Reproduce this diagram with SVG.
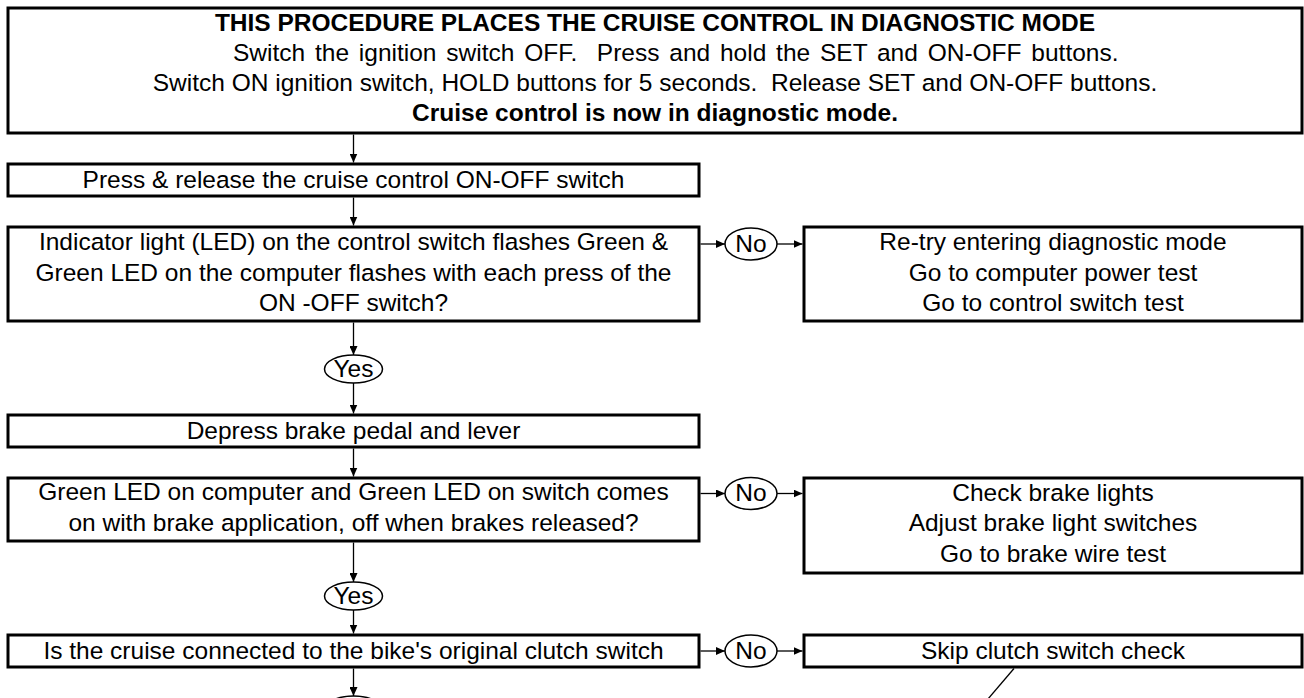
<svg xmlns="http://www.w3.org/2000/svg" width="1304" height="698" viewBox="0 0 1304 698">
  <style>
    .box { fill: #fff; stroke: #000; stroke-width: 3; }
    .oval { fill: #fff; stroke: #000; stroke-width: 1.5; }
    .t { font-family: "Liberation Sans", Arial, sans-serif; font-size: 24.5px; fill: #000; text-anchor: middle; }
    .b { font-weight: bold; }
    .conn line { stroke: #000; stroke-width: 1.3; fill: none; }
    .conn .arrow { marker-end: url(#arr); }
  </style>
  <defs>
    <marker id="arr" markerWidth="9" markerHeight="8" refX="9" refY="4" orient="auto" markerUnits="userSpaceOnUse">
      <path d="M0,0 L9,4 L0,8 z" fill="#000"/>
    </marker>
  </defs>
  <rect x="0" y="0" width="1304" height="698" fill="#fff"/>

  <!-- connectors -->
  <g id="connectors" class="conn">
    <line class="arrow" x1="353.5" y1="134.5" x2="353.5" y2="162.5"/>
    <line class="arrow" x1="353.5" y1="197.5" x2="353.5" y2="225.5"/>
    <line class="arrow" x1="353.5" y1="322.5" x2="353.5" y2="355"/>
    <line class="arrow" x1="353.5" y1="383" x2="353.5" y2="413.5"/>
    <line class="arrow" x1="353.5" y1="448.5" x2="353.5" y2="476.5"/>
    <line class="arrow" x1="353.5" y1="542.5" x2="353.5" y2="582"/>
    <line class="arrow" x1="353.5" y1="610" x2="353.5" y2="633.5"/>
    <line class="arrow" x1="353.5" y1="668.5" x2="353.5" y2="696"/>
    <line class="arrow" x1="700.5" y1="244" x2="725" y2="244"/>
    <line class="arrow" x1="777" y1="244" x2="802.5" y2="244"/>
    <line class="arrow" x1="700.5" y1="493.5" x2="725" y2="493.5"/>
    <line class="arrow" x1="777" y1="493.5" x2="802.5" y2="493.5"/>
    <line class="arrow" x1="700.5" y1="651" x2="725" y2="651"/>
    <line class="arrow" x1="777" y1="651" x2="802.5" y2="651"/>
    <line x1="1014" y1="668.5" x2="982" y2="706"/>
  </g>

  <!-- procedure header -->
  <g id="intro">
    <rect class="box" x="8" y="8" width="1294" height="125"/>
    <text class="t b" x="655" y="31">THIS PROCEDURE PLACES THE CRUISE CONTROL IN DIAGNOSTIC MODE</text>
    <text class="t" x="233" y="61" style="text-anchor:start; word-spacing:3px" xml:space="preserve">Switch the ignition switch OFF.  Press and hold the SET and ON-OFF buttons.</text>
    <text class="t" x="655" y="91" xml:space="preserve">Switch ON ignition switch, HOLD buttons for 5 seconds.  Release SET and ON-OFF buttons.</text>
    <text class="t b" x="655" y="121">Cruise control is now in diagnostic mode.</text>
  </g>

  <g id="press-release">
    <rect class="box" x="8" y="164" width="691" height="32"/>
    <text class="t" x="353.5" y="188">Press &amp; release the cruise control ON-OFF switch</text>
  </g>

  <g id="led-flash-check">
    <rect class="box" x="8" y="227" width="691" height="94"/>
    <text class="t" x="353.5" y="250">Indicator light (LED) on the control switch flashes Green &amp;</text>
    <text class="t" x="353.5" y="280.5">Green LED on the computer flashes with each press of the</text>
    <text class="t" x="353.5" y="311">ON -OFF switch?</text>
  </g>

  <g id="no-1">
    <ellipse class="oval" cx="751" cy="244" rx="26" ry="16"/>
    <text class="t" x="751" y="251.5">No</text>
  </g>

  <g id="retry">
    <rect class="box" x="804" y="227" width="498" height="94"/>
    <text class="t" x="1053" y="250">Re-try entering diagnostic mode</text>
    <text class="t" x="1053" y="280.5">Go to computer power test</text>
    <text class="t" x="1053" y="311">Go to control switch test</text>
  </g>

  <g id="yes-1">
    <ellipse class="oval" cx="353.5" cy="369" rx="29" ry="14"/>
    <text class="t" x="353.5" y="376.5">Yes</text>
  </g>

  <g id="depress-brake">
    <rect class="box" x="8" y="415" width="691" height="32"/>
    <text class="t" x="353.5" y="439">Depress brake pedal and lever</text>
  </g>

  <g id="brake-led-check">
    <rect class="box" x="8" y="478" width="691" height="63"/>
    <text class="t" x="353.5" y="500">Green LED on computer and Green LED on switch comes</text>
    <text class="t" x="353.5" y="530.5">on with brake application, off when brakes released?</text>
  </g>

  <g id="no-2">
    <ellipse class="oval" cx="751" cy="493.5" rx="26" ry="16"/>
    <text class="t" x="751" y="501">No</text>
  </g>

  <g id="brake-fix">
    <rect class="box" x="804" y="478" width="498" height="95"/>
    <text class="t" x="1053" y="500.5">Check brake lights</text>
    <text class="t" x="1053" y="531">Adjust brake light switches</text>
    <text class="t" x="1053" y="561.5">Go to brake wire test</text>
  </g>

  <g id="yes-2">
    <ellipse class="oval" cx="353.5" cy="596" rx="29" ry="14"/>
    <text class="t" x="353.5" y="603.5">Yes</text>
  </g>

  <g id="clutch-check">
    <rect class="box" x="8" y="635" width="691" height="32"/>
    <text class="t" x="353.5" y="659">Is the cruise connected to the bike's original clutch switch</text>
  </g>

  <g id="no-3">
    <ellipse class="oval" cx="751" cy="651" rx="26" ry="16"/>
    <text class="t" x="751" y="658.5">No</text>
  </g>

  <g id="skip-clutch">
    <rect class="box" x="804" y="635" width="498" height="32"/>
    <text class="t" x="1053" y="659">Skip clutch switch check</text>
  </g>

  <!-- next decision oval, continuing below the bottom edge -->
  <g id="yes-3">
    <ellipse class="oval" cx="353.5" cy="710" rx="29" ry="14"/>
  </g>
</svg>
